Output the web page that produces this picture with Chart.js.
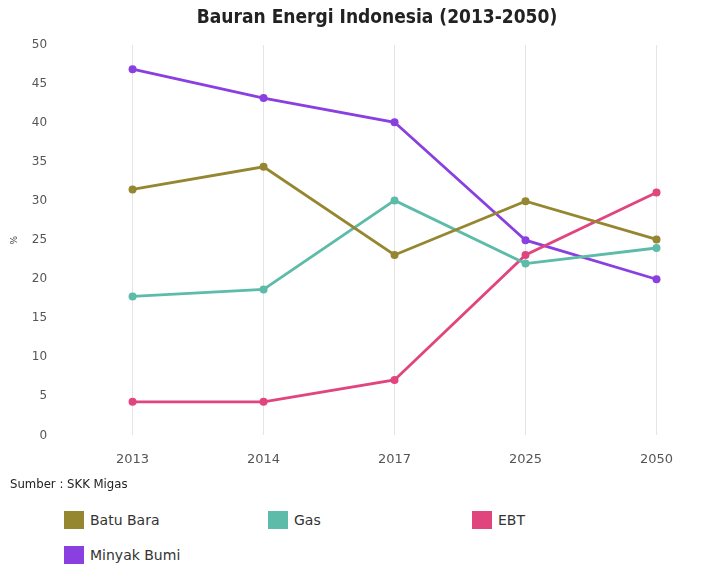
<!DOCTYPE html>
<html>
<head>
<meta charset="utf-8">
<script src="https://cdn.jsdelivr.net/npm/chart.js@4"></script>
<style>
  body { margin: 0; background: #fff; font-family: "DejaVu Sans", sans-serif; }
  .wrap { width: 721px; height: 564px; position: relative; overflow: hidden; }
  .title { position: absolute; left: 277px; top: 5px; width: 200px; white-space: nowrap; display: flex; justify-content: center; font: bold 19px "DejaVu Sans Condensed", "DejaVu Sans", sans-serif; color: #222; }
  #energy_chart { position: absolute; left: 0; top: 0; }
  .source { position: absolute; left: 10px; top: 476px; font-size: 13px; color: #222; font-family: "DejaVu Sans Condensed", "DejaVu Sans", sans-serif; }
  .legend { position: absolute; left: 64px; top: 511px; width: 640px; }
  .legend .item { position: absolute; font-size: 14px; color: #333; white-space: nowrap; line-height: 18px; }
  .legend .box { display: inline-block; width: 20px; height: 18px; vertical-align: top; margin-right: 6px; }
</style>
</head>
<body>
<div class="wrap">
  <canvas id="energy_chart" width="726" height="489"></canvas>
  <div class="title">Bauran Energi Indonesia (2013-2050)</div>
  <div class="source">Sumber : SKK Migas</div>
  <div class="legend" id="legend"></div>
</div>
<script>
// Data
const years = ["2013", "2014", "2017", "2025", "2050"];
const batuBara = [31.5, 34.4, 23.1, 30, 25.1];
const gas = [17.8, 18.7, 30.1, 22, 24];
const ebt = [4.3, 4.3, 7.1, 23.1, 31.1];
const minyakBumi = [46.9, 43.2, 40.1, 25, 20];
const yTicks = [0, 5, 10, 15, 20, 25, 30, 35, 40, 45, 50];

const series = [
  { label: "Batu Bara", data: batuBara, color: "#958630" },
  { label: "Gas", data: gas, color: "#5dbba9" },
  { label: "EBT", data: ebt, color: "#e0457d" },
  { label: "Minyak Bumi", data: minyakBumi, color: "#8a3fe0" },
];

const ctx = document.getElementById("energy_chart").getContext("2d");
const myChart = new Chart(ctx, {
  type: "line",
  data: {
    labels: years,
    datasets: series.map((s) => ({
      label: s.label,
      data: s.data,
      borderColor: s.color,
      backgroundColor: s.color,
      borderWidth: 2.8,
      pointRadius: 4,
      pointBorderWidth: 0,
      tension: 0,
    })),
  },
  options: {
    responsive: false,
    animation: false,
    layout: { padding: { left: 9, right: 0, top: 45, bottom: 6 } },
    plugins: {
      legend: { display: false },
      tooltip: { enabled: false },
      title: { display: false },
    },
    scales: {
      y: {
        min: 0,
        max: 50,
        afterBuildTicks: (axis) => {
          axis.ticks = yTicks.map((v) => ({ value: v }));
        },
        grid: { display: false },
        border: { display: false },
        ticks: {
          color: "#555",
          padding: 12,
          font: { family: "DejaVu Sans", size: 12 },
        },
        title: {
          display: true,
          text: "%",
          color: "#444",
          font: { family: "DejaVu Sans", size: 9 },
          padding: 0,
        },
      },
      x: {
        offset: true,
        grid: { offset: false, color: "#e4e4e4", drawTicks: false },
        border: { display: false },
        ticks: {
          color: "#555",
          padding: 16,
          font: { family: "DejaVu Sans", size: 13 },
        },
      },
    },
  },
});

// Легенда
const legend = document.getElementById("legend");
const legendPos = [[0, 0], [204, 0], [408, 0], [0, 35]];
series.forEach((s, i) => {
  const item = document.createElement("div");
  item.className = "item";
  item.style.left = legendPos[i][0] + "px";
  item.style.top = legendPos[i][1] + "px";
  item.innerHTML = '<span class="box" style="background:' + s.color + '"></span>' + s.label;
  legend.appendChild(item);
});
</script>
</body>
</html>
